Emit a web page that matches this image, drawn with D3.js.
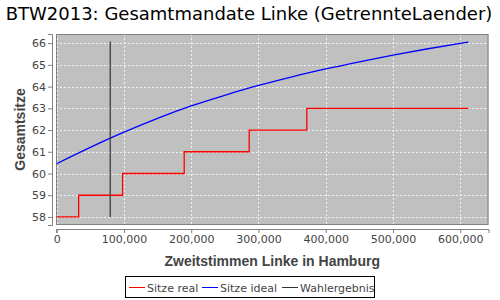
<!DOCTYPE html>
<html><head><meta charset="utf-8">
<script src="https://cdn.jsdelivr.net/npm/d3@7"></script>
<style>body{margin:0;background:#fff}svg{display:block}</style>
</head><body><svg id="c" width="500" height="300" font-family="DejaVu Sans, sans-serif"></svg>
<script>
const title = "BTW2013: Gesamtmandate Linke (GetrennteLaender)";
const xLabel = "Zweitstimmen Linke in Hamburg";
const yLabel = "Gesamtsitze";
const seriesNames = ["Sitze real", "Sitze ideal", "Wahlergebnis"];
const seriesColors = ["#ff0000", "#0000ff", "#333333"];
// Sitze real (step)
const realVotes = [0, 32700, 98000, 189600, 286200, 371900, 612200];
const realSeats = [58, 59, 60, 61, 62, 63, 63];
// Sitze ideal
const idealVotes = [0, 50000, 100000, 150000, 200000, 250000, 300000, 350000, 400000, 450000, 500000, 550000, 600000, 612200];
const idealSeats = [60.45, 61.2, 61.9, 62.54, 63.11, 63.6, 64.05, 64.45, 64.81, 65.14, 65.45, 65.73, 65.99, 66.05];
// Wahlergebnis
const resultVotes = [79600, 79600];
const resultSeats = [58, 66.07];
const xTicks = [0, 100000, 200000, 300000, 400000, 500000, 600000];
const yTicks = [58, 59, 60, 61, 62, 63, 64, 65, 66];

const svg = d3.select("#c");
const L = 56, R = 488.5, T = 34, B = 225;
const x = d3.scaleLinear().domain([-1000, 642000]).range([L, R]);
const y = d3.scaleLinear().domain([57.63, 66.42]).range([B, T]);

svg.append("text").attr("x", 249).attr("y", 20).attr("text-anchor", "middle")
  .style("font-family", "DejaVu Sans, sans-serif")
  .attr("font-size", 18).attr("fill", "#000").text(title);

svg.append("rect").attr("x", L).attr("y", T).attr("width", R - L).attr("height", B - T)
  .attr("fill", "#c0c0c0");

const g = svg.append("g");
g.selectAll(".gx").data(xTicks).join("line")
  .attr("x1", d => Math.round(x(d)) + 0.5).attr("x2", d => Math.round(x(d)) + 0.5).attr("y1", T).attr("y2", B)
  .attr("stroke", "#ffffff").attr("stroke-dasharray", "2,2").attr("stroke-width", 1).attr("opacity", 0.8);
g.selectAll(".gy").data(yTicks).join("line")
  .attr("y1", d => Math.round(y(d)) + 0.5).attr("y2", d => Math.round(y(d)) + 0.5).attr("x1", L).attr("x2", R)
  .attr("stroke", "#ffffff").attr("stroke-dasharray", "2,2").attr("stroke-width", 1).attr("opacity", 0.8);

svg.append("rect").attr("x", L + 0.5).attr("y", T + 0.5).attr("width", R - L - 1).attr("height", B - T - 1)
  .attr("fill", "none").attr("stroke", "#808080");

// Axes
const xAxis = d3.axisBottom(x).tickValues(xTicks).tickFormat(d3.format(",")).tickSize(4).tickPadding(2);
const gx = svg.append("g").attr("transform", `translate(0,${B + 4})`).call(xAxis);
const yAxis = d3.axisLeft(y).tickValues(yTicks).tickFormat(d3.format("d")).tickSize(4).tickPadding(2);
const gy = svg.append("g").attr("transform", `translate(${L - 4},0)`).call(yAxis);
[gx, gy].forEach(a => {
  a.select(".domain").attr("stroke", "#808080");
  a.selectAll(".tick line").attr("stroke", "#808080");
  a.selectAll(".tick text").attr("fill", "#444").attr("font-size", 11)
    .style("font-family", "DejaVu Sans, sans-serif");
});

svg.append("text").attr("x", (L + R) / 2).attr("y", 266).attr("text-anchor", "middle")
  .attr("font-size", 14).attr("font-weight", "bold")
  .style("font-family", "'Liberation Sans', Arial, sans-serif")
  .attr("fill", "#444").text(xLabel);
svg.append("text").attr("transform", `translate(25,${(T + B) / 2}) rotate(-90)`).attr("text-anchor", "middle")
  .attr("font-size", 14).attr("font-weight", "bold")
  .style("font-family", "'Liberation Sans', Arial, sans-serif")
  .attr("fill", "#444").text(yLabel);

// Lines
svg.append("clipPath").attr("id", "pc").append("rect")
  .attr("x", L).attr("y", T).attr("width", R - L).attr("height", B - T);
const plot = svg.append("g").attr("clip-path", "url(#pc)");
const lineStep = d3.line().x(d => x(d[0])).y(d => y(d[1])).curve(d3.curveStepAfter);
const lineSmooth = d3.line().x(d => x(d[0])).y(d => y(d[1])).curve(d3.curveMonotoneX);
const lineStraight = d3.line().x(d => x(d[0])).y(d => y(d[1]));
plot.append("path").datum(d3.zip(realVotes, realSeats)).attr("d", lineStep)
  .attr("fill", "none").attr("stroke", seriesColors[0]).attr("stroke-width", 1.3);
plot.append("path").datum(d3.zip(idealVotes, idealSeats)).attr("d", lineSmooth)
  .attr("fill", "none").attr("stroke", seriesColors[1]).attr("stroke-width", 1.3);
plot.append("path").datum(d3.zip(resultVotes, resultSeats)).attr("d", lineStraight)
  .attr("fill", "none").attr("stroke", seriesColors[2]).attr("stroke-width", 1.2);

// Legend
const lg = svg.append("g");
lg.append("rect").attr("x", 125.5).attr("y", 276.5).attr("width", 249).attr("height", 21)
  .attr("fill", "#fff").attr("stroke", "#000");
const itemX = [129, 202, 282];
seriesNames.forEach((n, i) => {
  lg.append("line").attr("x1", itemX[i]).attr("x2", itemX[i] + 16).attr("y1", 287.5).attr("y2", 287.5)
    .attr("stroke", seriesColors[i]).attr("stroke-width", 1);
  lg.append("text").attr("x", itemX[i] + 18).attr("y", 291.5).attr("font-size", 11)
    .style("font-family", "DejaVu Sans, sans-serif").attr("fill", "#444").text(n);
});
</script></body></html>
